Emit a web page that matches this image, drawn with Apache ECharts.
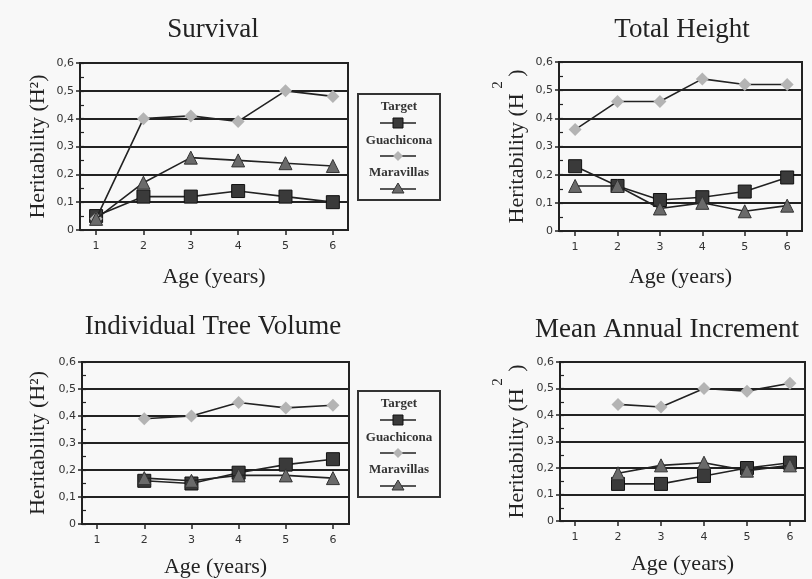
<!DOCTYPE html>
<html>
<head>
<meta charset="utf-8">
<script src="https://cdn.jsdelivr.net/npm/echarts@6/dist/echarts.min.js"></script>
<style>
  html, body { margin: 0; padding: 0; background: #f8f8f8; }
  #chart { width: 812px; height: 579px; }
</style>
</head>
<body>
<div id="chart"></div>
<script>
// data
const ages = [1, 2, 3, 4, 5, 6]
const seriesNames = ['Target', 'Guachicona', 'Maravillas']
const panelTitles = ['Survival', 'Total Height', 'Individual Tree Volume', 'Mean Annual Increment']

const survivalTarget = [0.05, 0.12, 0.12, 0.14, 0.12, 0.10]
const survivalGuachicona = [0.04, 0.40, 0.41, 0.39, 0.50, 0.48]
const survivalMaravillas = [0.04, 0.17, 0.26, 0.25, 0.24, 0.23]

const heightTarget = [0.23, 0.16, 0.11, 0.12, 0.14, 0.19]
const heightGuachicona = [0.36, 0.46, 0.46, 0.54, 0.52, 0.52]
const heightMaravillas = [0.16, 0.16, 0.08, 0.10, 0.07, 0.09]

const volumeTarget = [null, 0.16, 0.15, 0.19, 0.22, 0.24]
const volumeGuachicona = [null, 0.39, 0.40, 0.45, 0.43, 0.44]
const volumeMaravillas = [null, 0.17, 0.16, 0.18, 0.18, 0.17]

const maiTarget = [null, 0.14, 0.14, 0.17, 0.20, 0.22]
const maiGuachicona = [null, 0.44, 0.43, 0.50, 0.49, 0.52]
const maiMaravillas = [null, 0.18, 0.21, 0.22, 0.19, 0.21]

const panelData = [
  [survivalTarget, survivalGuachicona, survivalMaravillas],
  [heightTarget, heightGuachicona, heightMaravillas],
  [volumeTarget, volumeGuachicona, volumeMaravillas],
  [maiTarget, maiGuachicona, maiMaravillas]
]

// layout of the four plots (pixels) and x range
const panels = [
  { left: 80, top: 63, right: 348, bottom: 230, xmin: 0.66, xmax: 6.32, tx: 213, ty: 16, xGap: 36, yGap: 31, sup: false },
  { left: 559, top: 62, right: 802, bottom: 231, xmin: 0.62, xmax: 6.35, tx: 682, ty: 16, xGap: 35, yGap: 31, sup: true },
  { left: 82, top: 362, right: 349, bottom: 527, xmin: 0.68, xmax: 6.34, tx: 213, ty: 313, xGap: 32, yGap: 33, sup: false },
  { left: 560, top: 362, right: 805, bottom: 521, xmin: 0.65, xmax: 6.35, tx: 667, ty: 316, xGap: 32, yGap: 32, sup: true }
]

const symbols = ['rect', 'diamond', 'triangle']
const fills = ['#3a3a3a', '#b4b4b4', '#6a6a6a']
const borders = ['#111', '#b4b4b4', '#333']
const serif = 'Liberation Serif'
const ink = '#222'

const W = 812, H = 579

const toPairs = (vals) => {
  const arr = []
  for (let i = 0; i < ages.length; i++) {
    if (vals[i] !== null) arr.push([ages[i], vals[i]])
  }
  return arr
}

const fmtY = (v) => {
  if (Math.abs(v) < 1e-9) return '0'
  return v.toFixed(1).replace('.', ',')
}

const grid = []
const xAxis = []
const yAxis = []
const series = []
const title = []

panels.forEach((p, i) => {
  grid.push({
    left: p.left, top: p.top, width: p.right - p.left, height: p.bottom - p.top,
    show: true, borderColor: ink, borderWidth: 2, backgroundColor: 'transparent'
  })
  title.push({
    text: panelTitles[i], left: p.tx, top: p.ty, textAlign: 'center', padding: 0,
    textStyle: { fontFamily: serif, fontSize: 27, fontWeight: 'normal', color: ink }
  })
  xAxis.push({
    type: 'value', gridIndex: i, min: p.xmin, max: p.xmax,
    name: 'Age (years)', nameLocation: 'middle', nameGap: p.xGap,
    nameTextStyle: { fontFamily: serif, fontSize: 22, color: ink },
    axisLine: { show: true, lineStyle: { color: ink, width: 2 } },
    axisTick: { show: true, length: 5, customValues: ages, lineStyle: { color: ink, width: 1.5 } },
    axisLabel: { customValues: ages, fontSize: 11, fontFamily: 'DejaVu Sans', color: '#333', margin: 11 },
    splitLine: { show: false }
  })
  yAxis.push({
    type: 'value', gridIndex: i, min: 0, max: 0.6, interval: 0.1,
    name: p.sup ? 'Heritability (H   )' : 'Heritability (H²)',
    nameLocation: 'middle', nameGap: p.yGap,
    nameTextStyle: { fontFamily: serif, fontSize: 22, color: ink },
    axisLine: { show: true, lineStyle: { color: ink, width: 2 } },
    axisTick: { show: true, length: 4, lineStyle: { color: ink, width: 1.5 } },
    axisLabel: { formatter: fmtY, fontSize: 11, fontFamily: 'DejaVu Sans', color: '#333', margin: 6 },
    splitLine: { show: true, lineStyle: { color: ink, width: 1.8 } }
  })
  // inner half-step ticks
  yAxis.push({
    type: 'value', gridIndex: i, min: 0, max: 0.6, interval: 0.05, position: 'left',
    axisLine: { show: false },
    axisTick: { show: true, inside: true, length: 4, lineStyle: { color: ink, width: 1.2 } },
    axisLabel: { show: false },
    splitLine: { show: false }
  })
  const order = [1, 2, 0]
  order.forEach((k) => {
    series.push({
      name: seriesNames[k], type: 'line',
      xAxisIndex: i, yAxisIndex: i * 2,
      data: toPairs(panelData[i][k]),
      symbol: symbols[k], symbolSize: k === 1 ? 13 : 13,
      showSymbol: true,
      lineStyle: { color: ink, width: 1.6 },
      itemStyle: { color: fills[k], borderColor: borders[k], borderWidth: k === 1 ? 0 : 1 },
      z: 3 + k
    })
  })
})

// legend boxes: text above a line with the marker
const legendBox = (x, y) => {
  const children = [{
    type: 'rect', shape: { x: 0, y: 0, width: 82, height: 106 },
    style: { fill: 'none', stroke: '#333', lineWidth: 2 }
  }]
  const textY = [13, 47, 79]
  const markY = [29, 62, 95]
  seriesNames.forEach((n, k) => {
    children.push({
      type: 'text', x: 41, y: textY[k],
      style: { text: n, font: 'bold 13px "Liberation Serif"', fill: '#333', align: 'center', verticalAlign: 'middle' }
    })
    children.push({
      type: 'line', shape: { x1: 22, y1: markY[k], x2: 58, y2: markY[k] },
      style: { stroke: ink, lineWidth: 1.5 }
    })
    let shape
    if (k === 0) {
      shape = { type: 'rect', shape: { x: 35, y: markY[k] - 5, width: 10, height: 10 }, style: { fill: fills[0], stroke: '#111', lineWidth: 1 } }
    } else if (k === 1) {
      const c = markY[k]
      shape = { type: 'polygon', shape: { points: [[40, c - 5], [45, c], [40, c + 5], [35, c]] }, style: { fill: fills[1] } }
    } else {
      const c = markY[k]
      shape = { type: 'polygon', shape: { points: [[40, c - 6], [46, c + 4], [34, c + 4]] }, style: { fill: fills[2], stroke: '#333', lineWidth: 1 } }
    }
    children.push(shape)
  })
  return { type: 'group', x: x, y: y, children: children }
}

const graphic = [
  legendBox(358, 94),
  legendBox(358, 391),
  // displaced superscript 2 in the right-hand axis titles
  { type: 'text', x: 498, y: 85, rotation: Math.PI / 2, style: { text: '2', font: '15px "Liberation Serif"', fill: ink, align: 'center', verticalAlign: 'middle' } },
  { type: 'text', x: 498, y: 382, rotation: Math.PI / 2, style: { text: '2', font: '15px "Liberation Serif"', fill: ink, align: 'center', verticalAlign: 'middle' } }
]

const chart = echarts.init(document.getElementById('chart'), null, { width: W, height: H })
chart.setOption({
  backgroundColor: '#f8f8f8',
  animation: false,
  title: title,
  grid: grid,
  xAxis: xAxis,
  yAxis: yAxis,
  series: series,
  graphic: graphic
})
</script>
</body>
</html>
